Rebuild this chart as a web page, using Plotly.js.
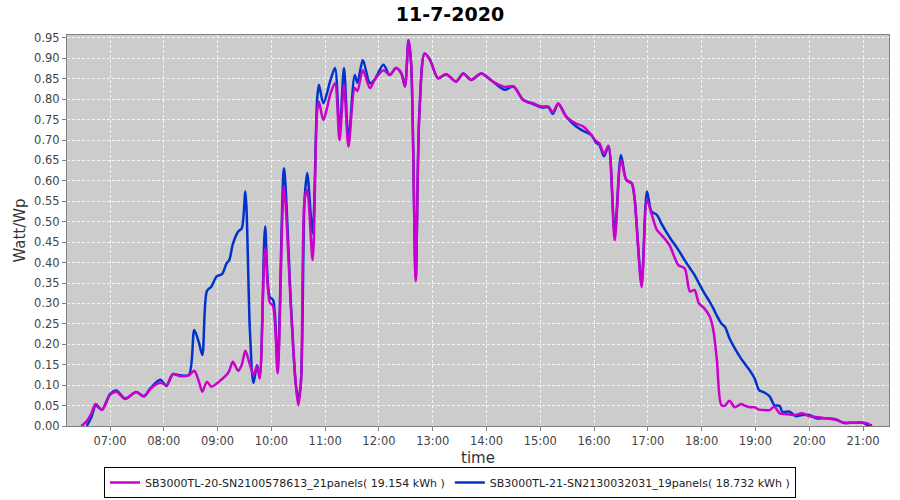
<!DOCTYPE html>
<html>
<head>
<meta charset="utf-8">
<script src="https://cdn.plot.ly/plotly-3.0.1.min.js"></script>
<style>html,body{margin:0;padding:0;background:#fff}#chart{width:900px;height:500px}</style>
</head>
<body>
<div id="chart"></div>
<script>
const dateStr = "2020-07-11";
const times = ["06:28","06:34","06:39","06:44","06:51","07:00","07:07","07:17","07:29","07:38","07:45","07:56","08:03","08:10","08:18","08:28","08:34","08:39","08:43","08:48","08:53","08:59","09:05","09:10","09:13","09:17","09:23","09:27","09:31","09:36","09:40","09:44","09:47","09:53","09:58","10:02","10:07","10:14","10:22","10:27","10:30","10:33","10:37","10:40","10:46","10:51","10:53","10:58","11:06","11:11","11:16","11:21","11:26","11:33","11:36","11:42","11:50","11:55","12:05","12:12","12:19","12:25","12:29","12:33","12:36","12:41","12:45","12:51","12:57","13:06","13:15","13:26","13:34","13:43","13:54","14:07","14:20","14:30","14:41","14:52","15:01","15:09","15:14","15:20","15:29","15:40","15:48","15:57","16:02","16:06","16:11","16:16","16:23","16:30","16:36","16:42","16:45","16:53","16:59","17:04","17:10","17:15","17:24","17:34","17:41","17:47","17:52","17:57","18:03","18:09","18:13","18:17","18:22","18:26","18:31","18:37","18:44","18:48","18:54","18:59","19:04","19:10","19:16","19:21","19:27","19:30","19:38","19:45","19:52","20:00","20:08","20:19","20:30","20:38","20:49","21:00","21:05","21:10"];

const sb20Values = [0.000,0.012,0.030,0.054,0.039,0.076,0.084,0.066,0.083,0.072,0.091,0.106,0.100,0.127,0.122,0.124,0.135,0.110,0.084,0.108,0.096,0.104,0.115,0.125,0.135,0.157,0.135,0.150,0.184,0.150,0.125,0.147,0.116,0.435,0.304,0.292,0.129,0.586,0.280,0.108,0.051,0.108,0.553,0.578,0.406,0.770,0.794,0.749,0.814,0.839,0.700,0.835,0.684,0.827,0.820,0.871,0.827,0.847,0.871,0.859,0.876,0.863,0.831,0.945,0.884,0.355,0.761,0.912,0.896,0.851,0.861,0.843,0.863,0.847,0.863,0.843,0.830,0.831,0.798,0.790,0.782,0.782,0.768,0.790,0.757,0.740,0.733,0.712,0.698,0.692,0.666,0.686,0.455,0.651,0.602,0.594,0.561,0.340,0.553,0.520,0.480,0.468,0.443,0.394,0.386,0.329,0.333,0.300,0.288,0.268,0.235,0.162,0.051,0.050,0.062,0.046,0.054,0.050,0.046,0.046,0.040,0.039,0.039,0.047,0.031,0.030,0.028,0.027,0.031,0.024,0.022,0.019,0.015,0.008,0.008,0.008,0.006,0.000];

const sb21Values = [null,0.000,0.020,0.050,0.040,0.078,0.087,0.067,0.083,0.073,0.092,0.113,0.098,0.127,0.124,0.125,0.235,0.205,0.174,0.330,0.341,0.366,0.372,0.398,0.406,0.445,0.476,0.484,0.574,0.235,0.105,0.149,0.121,0.488,0.317,0.308,0.149,0.631,0.290,0.108,0.065,0.108,0.553,0.619,0.472,0.798,0.835,0.790,0.847,0.876,0.717,0.876,0.700,0.859,0.840,0.896,0.839,0.847,0.884,0.859,0.876,0.863,0.831,0.945,0.884,0.362,0.761,0.912,0.896,0.851,0.861,0.843,0.863,0.847,0.863,0.843,0.823,0.831,0.798,0.788,0.780,0.780,0.764,0.788,0.757,0.733,0.722,0.712,0.694,0.688,0.660,0.684,0.472,0.663,0.602,0.594,0.561,0.350,0.574,0.525,0.517,0.496,0.463,0.431,0.406,0.386,0.370,0.349,0.325,0.304,0.288,0.270,0.251,0.243,0.215,0.190,0.165,0.153,0.135,0.117,0.088,0.082,0.072,0.051,0.049,0.035,0.035,0.024,0.027,0.027,0.019,0.019,0.016,0.008,0.008,0.008,0.002,0.002];

const seriesNames = ["SB3000TL-20-SN2100578613_21panels( 19.154 kWh )","SB3000TL-21-SN2130032031_19panels( 18.732 kWh )"];
const chartTitle = "11-7-2020";
const xLabel = "time";
const yLabel = "Watt/Wp";

const xs = times.map(t => dateStr + " " + t);
const font = "DejaVu Sans, sans-serif";

const traces = [
  {x: xs, y: sb21Values, name: seriesNames[1], type: "scatter", mode: "lines",
   line: {color: "#0033cc", width: 2.5, shape: "spline", smoothing: 0.8}},
  {x: xs, y: sb20Values, name: seriesNames[0], type: "scatter", mode: "lines",
   line: {color: "#cc00cc", width: 2.5, shape: "spline", smoothing: 0.8}}
];

const layout = {
  width: 900, height: 500,
  margin: {l: 67, r: 11, t: 35, b: 74, autoexpand: false},
  paper_bgcolor: "#ffffff",
  plot_bgcolor: "#cccccc",
  title: {text: "<b>" + chartTitle + "</b>", x: 0.5, xanchor: "center", y: 0.972, yanchor: "middle",
          font: {family: font, size: 19, color: "#000"}},
  xaxis: {
    type: "date", automargin: false,
    range: [dateStr + " 06:12", dateStr + " 21:29"],
    tick0: dateStr + " 07:00", dtick: 3600000, tickformat: "%H:%M",
    showgrid: true, gridcolor: "#f4f4f4", griddash: "3px,2px", gridwidth: 1,
    showline: true, linecolor: "#808080", linewidth: 1, mirror: true,
    ticks: "outside", ticklen: 4, tickcolor: "#808080",
    tickfont: {family: font, size: 11.5, color: "#444"},
    title: {text: xLabel, font: {family: font, size: 15, color: "#333"}, standoff: 8},
    zeroline: false
  },
  yaxis: {
    automargin: false,
    range: [0, 0.957], dtick: 0.05, tick0: 0, tickformat: ".2f",
    showgrid: true, gridcolor: "#f4f4f4", griddash: "3px,2px", gridwidth: 1,
    showline: true, linecolor: "#808080", linewidth: 1, mirror: true,
    ticks: "outside", ticklen: 4, tickcolor: "#808080",
    tickfont: {family: font, size: 11.5, color: "#444"},
    title: {text: yLabel, font: {family: font, size: 15, color: "#333"}, standoff: 4},
    zeroline: false
  },
  showlegend: true,
  legend: {
    orientation: "h", xref: "container", yref: "container",
    x: 0.5, xanchor: "center", y: 0.004, yanchor: "bottom",
    bgcolor: "#ffffff", bordercolor: "#000000", borderwidth: 1,
    traceorder: "reversed",
    font: {family: font, size: 11, color: "#222"},
    itemwidth: 30, tracegroupgap: 0
  }
};

Plotly.newPlot("chart", traces, layout, {displayModeBar: false, staticPlot: true});
</script>
</body>
</html>
